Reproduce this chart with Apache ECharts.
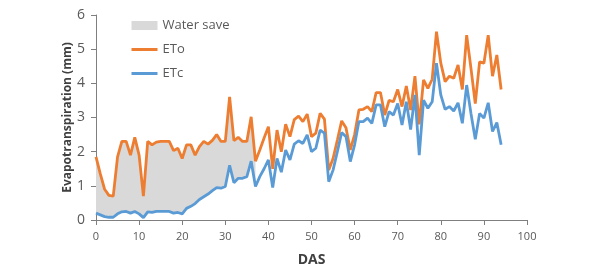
<!DOCTYPE html>
<html>
<head>
<meta charset="utf-8">
<script src="https://cdn.jsdelivr.net/npm/echarts@6/dist/echarts.min.js"></script>
<style>
html,body{margin:0;padding:0;background:#fff;}
#chart{width:590px;height:274px;}
</style>
</head>
<body>
<div id="chart"></div>
<script>
const days = [0,1,2,3,4,5,6,7,8,9,10,11,12,13,14,15,16,17,18,19,20,21,22,23,24,25,26,27,28,29,30,31,32,33,34,35,36,37,38,39,40,41,42,43,44,45,46,47,48,49,50,51,52,53,54,55,56,57,58,59,60,61,62,63,64,65,66,67,68,69,70,71,72,73,74,75,76,77,78,79,80,81,82,83,84,85,86,87,88,89,90,91,92,93,94];
const eto = [1.85,1.35,0.9,0.72,0.7,1.85,2.3,2.3,1.9,2.42,1.9,0.7,2.3,2.2,2.28,2.3,2.3,2.3,2.03,2.1,1.8,2.2,2.2,1.9,2.15,2.3,2.22,2.33,2.5,2.3,2.3,3.6,2.32,2.42,2.3,2.3,3.02,1.72,2.05,2.4,2.73,1.5,2.63,2.0,2.8,2.44,2.94,3.04,2.88,3.1,2.44,2.54,3.12,2.95,1.46,1.8,2.34,2.9,2.7,2.05,2.5,3.22,3.24,3.32,3.17,3.73,3.73,3.07,3.5,3.46,3.82,3.32,3.92,3.22,4.21,2.8,4.1,3.85,4.12,5.51,4.59,4.05,4.21,4.15,4.54,3.82,5.41,4.44,3.41,4.63,4.59,5.41,4.21,4.83,3.82];
const etc = [0.2,0.15,0.1,0.08,0.08,0.18,0.24,0.25,0.2,0.25,0.18,0.07,0.24,0.22,0.25,0.25,0.25,0.25,0.2,0.22,0.18,0.34,0.4,0.48,0.6,0.68,0.76,0.86,0.95,0.93,0.98,1.6,1.09,1.22,1.22,1.27,1.72,0.98,1.27,1.5,1.76,0.95,1.8,1.4,2.05,1.76,2.22,2.32,2.24,2.49,2.0,2.1,2.63,2.54,1.12,1.46,2.0,2.56,2.44,1.71,2.2,2.88,2.88,2.98,2.83,3.37,3.37,2.73,3.17,3.07,3.41,2.78,3.46,2.65,3.66,1.9,3.51,3.27,3.46,4.59,3.66,3.24,3.32,3.19,3.43,2.83,3.95,3.12,2.36,3.12,2.98,3.43,2.59,2.85,2.2];
const waterSaveEndDay = 37;
const xTicks = [0,10,20,30,40,50,60,70,80,90,100];
const yTicks = [0,1,2,3,4,5,6];

const pairs = (arr) => days.map((d, i) => [d, arr[i]]);
const wsData = days.filter(d => d <= waterSaveEndDay).map((d, i) => [d, eto[i], etc[i]]);

const font = '"Open Sans", "DejaVu Sans", sans-serif';
const chart = echarts.init(document.getElementById('chart'));
chart.setOption({
  animation: false,
  backgroundColor: '#fff',
  textStyle: { fontFamily: font },
  grid: { left: 96, right: 63, top: 15, bottom: 54, containLabel: false },
  legend: {
    orient: 'vertical',
    left: 130,
    top: 19,
    padding: 0,
    itemWidth: 26,
    itemHeight: 9,
    itemGap: 11,
    textStyle: { fontSize: 13, color: '#595959', fontFamily: font },
    data: [
      { name: 'Water save', icon: 'rect', itemStyle: { color: '#D9D9D9' } },
      { name: 'ETo', itemStyle: { opacity: 0 }, lineStyle: { width: 3, color: '#ED7D31' } },
      { name: 'ETc', itemStyle: { opacity: 0 }, lineStyle: { width: 3, color: '#5B9BD5' } }
    ]
  },
  xAxis: {
    type: 'value',
    min: xTicks[0],
    max: xTicks[xTicks.length - 1],
    interval: 10,
    name: 'DAS',
    nameLocation: 'middle',
    nameGap: 33,
    nameTextStyle: { fontSize: 14, fontWeight: 'bold', color: '#404040', fontFamily: font },
    axisLine: { lineStyle: { color: '#7F7F7F', width: 1 } },
    axisTick: { show: true, inside: false, length: 5, lineStyle: { color: '#7F7F7F' } },
    axisLabel: { fontSize: 11, color: '#595959', margin: 11 },
    splitLine: { show: false }
  },
  yAxis: {
    type: 'value',
    min: yTicks[0],
    max: yTicks[yTicks.length - 1],
    interval: 1,
    name: 'Evapotranspiration (mm)',
    nameLocation: 'middle',
    nameGap: 22,
    nameMoveOverlap: false,
    nameTextStyle: { fontSize: 12, fontWeight: 'bold', color: '#404040', fontFamily: font },
    axisLine: { show: true, lineStyle: { color: '#7F7F7F', width: 1 } },
    axisTick: { show: true, inside: false, length: 5, lineStyle: { color: '#7F7F7F' } },
    axisLabel: { fontSize: 14, color: '#595959', margin: 11 },
    splitLine: { show: false }
  },
  series: [
    {
      name: 'Water save',
      type: 'custom',
      data: wsData,
      itemStyle: { color: '#D9D9D9' },
      z: 1,
      silent: true,
      renderItem: function (params, api) {
        if (params.dataIndex !== 0) return null;
        const top = wsData.map(p => api.coord([p[0], p[1]]));
        const bottom = wsData.slice().reverse().map(p => api.coord([p[0], p[2]]));
        return {
          type: 'polygon',
          shape: { points: top.concat(bottom) },
          style: { fill: '#D9D9D9', stroke: null }
        };
      }
    },
    {
      name: 'ETo',
      type: 'line',
      data: pairs(eto),
      symbol: 'none',
      itemStyle: { color: '#ED7D31' },
      lineStyle: { color: '#ED7D31', width: 2.8 },
      z: 3
    },
    {
      name: 'ETc',
      type: 'line',
      data: pairs(etc),
      symbol: 'none',
      itemStyle: { color: '#5B9BD5' },
      lineStyle: { color: '#5B9BD5', width: 2.8 },
      z: 4
    }
  ]
});
</script>
</body>
</html>
